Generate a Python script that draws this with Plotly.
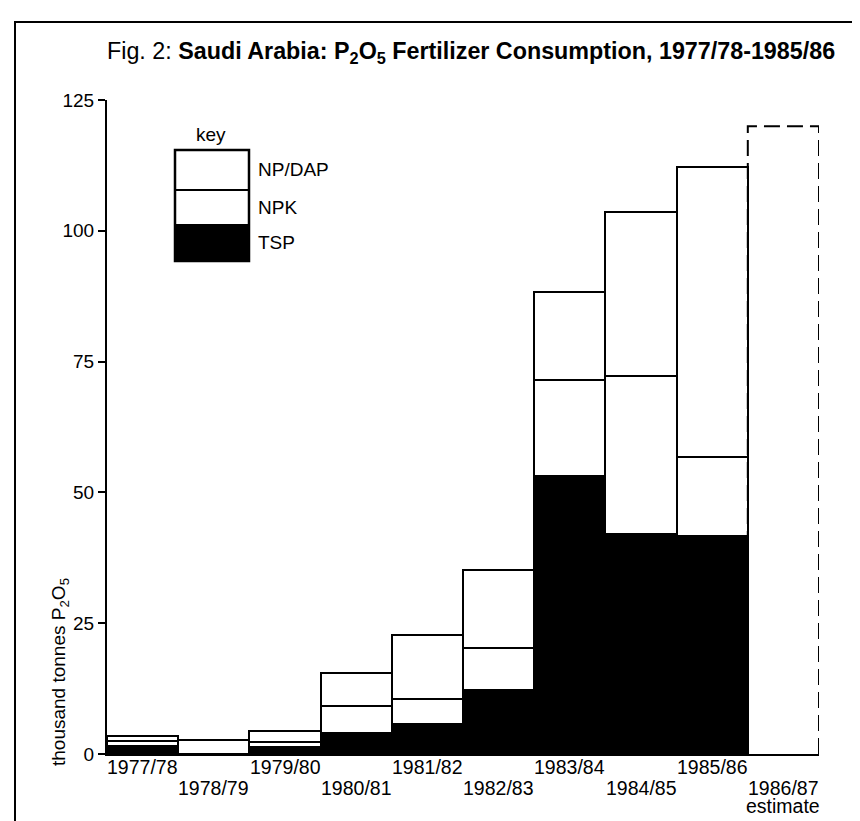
import plotly.graph_objects as go

# ---- data ----
categories = ["1977/78", "1978/79", "1979/80", "1980/81", "1981/82",
              "1982/83", "1983/84", "1984/85", "1985/86", "1986/87"]
tsp    = [1.5, 0.0, 1.4, 4.0, 5.8, 12.2, 53.2, 42.1, 41.7, None]
npk    = [0.9, 0.0, 0.8, 5.2, 4.7, 8.1, 18.2, 30.1, 15.0, None]
np_dap = [1.1, 2.6, 2.2, 6.3, 12.3, 14.8, 16.9, 31.3, 55.4, None]
estimate_total = 120.0
estimate_note = "estimate"
series_names = ["NP/DAP", "NPK", "TSP"]
y_ticks = [0, 25, 50, 75, 100, 125]

FONT = "Liberation Sans, Arial, Helvetica, sans-serif"
x = list(range(len(categories)))

# plot-area geometry (pixels) used to place decorations in paper units
L, R, T, B = 99, 811, 92, 746
def px(xp):
    return (xp - L) / (R - L)
def py(yp):
    return (B - yp) / (B - T)

fig = go.Figure()
line = dict(color="black", width=2)
fig.add_bar(x=x, y=tsp, name="TSP", marker=dict(color="black", line=line), width=1)
fig.add_bar(x=x, y=npk, name="NPK", marker=dict(color="white", line=line), width=1)
fig.add_bar(x=x, y=np_dap, name="NP/DAP", marker=dict(color="white", line=line), width=1)

# dashed estimate outline
ei = len(categories) - 1
fig.add_scatter(x=[ei - 0.5, ei - 0.5, ei + 0.5, ei + 0.5],
                y=[0, estimate_total, estimate_total, 0],
                mode="lines", line=dict(color="black", width=2, dash="16px,7px"),
                cliponaxis=False, showlegend=False, hoverinfo="skip")

annotations = []
# x category labels, staggered in two rows
for i, lab in enumerate(categories):
    annotations.append(dict(x=i, y=0, xref="x", yref="paper", text=lab,
                            showarrow=False, yanchor="middle",
                            yshift=-13 if i % 2 == 0 else -34,
                            font=dict(size=19.5, color="black", family=FONT)))
annotations.append(dict(x=ei, y=0, xref="x", yref="paper", text=estimate_note,
                        showarrow=False, yanchor="middle", yshift=-52,
                        font=dict(size=19.5, color="black", family=FONT)))

# title
annotations.append(dict(
    x=px(97), y=py(44), xref="paper", yref="paper",
    text="Fig. 2: <b>Saudi Arabia: P<sub>2</sub>O<sub>5</sub> Fertilizer Consumption, 1977/78-1985/86</b>",
    showarrow=False, xanchor="left", yanchor="middle",
    font=dict(size=23.3, color="black", family=FONT)))

# y axis title
annotations.append(dict(
    x=px(52), y=py(760), xref="paper", yref="paper",
    text="thousand tonnes P<sub>2</sub>O<sub>5</sub>", textangle=-90,
    showarrow=False, xanchor="center", yanchor="bottom",
    font=dict(size=19, color="black", family=FONT)))

# key (legend drawn by hand)
kx0, kx1 = px(167), px(241)
ky = [py(142), py(182), py(216), py(253)]
shapes = []
shapes.append(dict(type="rect", xref="paper", yref="paper", x0=kx0, x1=kx1,
                   y0=ky[3], y1=ky[2], fillcolor="black", line=dict(width=0)))
shapes.append(dict(type="rect", xref="paper", yref="paper", x0=kx0, x1=kx1,
                   y0=ky[3], y1=ky[0], fillcolor="rgba(0,0,0,0)",
                   line=dict(color="black", width=2.5)))
shapes.append(dict(type="line", xref="paper", yref="paper", x0=kx0, x1=kx1,
                   y0=ky[1], y1=ky[1], line=dict(color="black", width=2)))
annotations.append(dict(x=px(203), y=py(126), xref="paper", yref="paper", text="key",
                        showarrow=False, xanchor="center", yanchor="middle",
                        font=dict(size=19, color="black", family=FONT)))
for name, yy in zip(series_names, [161, 199, 235]):
    annotations.append(dict(x=px(248), y=py(yy), xref="paper", yref="paper", text=name,
                            showarrow=False, xanchor="left", yanchor="middle",
                            font=dict(size=19, color="black", family=FONT)))

# outer frame
shapes.append(dict(type="rect", xref="paper", yref="paper",
                   x0=px(7), x1=px(900), y0=py(900), y1=py(14),
                   line=dict(color="black", width=2), layer="below"))

fig.update_layout(
    width=860, height=821,
    margin=dict(l=L, r=860 - R, t=T, b=821 - B),
    paper_bgcolor="white", plot_bgcolor="white",
    barmode="stack", bargap=0, showlegend=False,
    font=dict(family=FONT, color="black", size=19),
    annotations=annotations, shapes=shapes,
    xaxis=dict(range=[-0.5, ei + 0.5], showticklabels=False, ticks="",
               showline=True, linecolor="black", linewidth=2,
               showgrid=False, zeroline=False, fixedrange=True),
    yaxis=dict(range=[0, 125], tickvals=y_ticks, ticks="outside", ticklen=7,
               tickwidth=2, tickcolor="black", showline=True, linecolor="black",
               linewidth=2, showgrid=False, zeroline=False,
               tickfont=dict(size=19, family=FONT, color="black")),
)

fig.write_html("out.html")
